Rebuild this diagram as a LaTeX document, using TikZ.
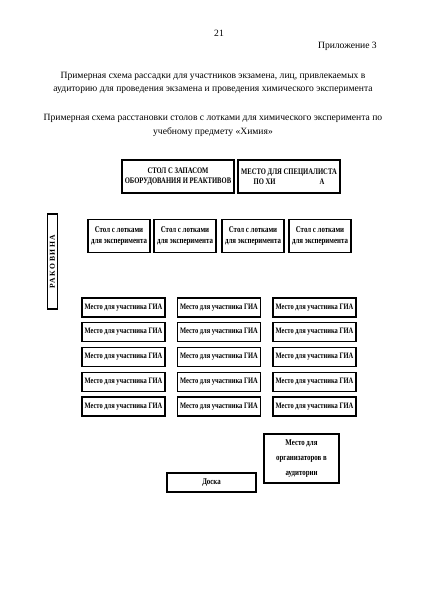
\documentclass[tikz,border=0pt]{standalone}
\usepackage{fontspec}
\setmainfont{Liberation Serif}
\newfontfamily\cond[FakeStretch=0.78]{Liberation Serif}
\newfontfamily\spaced[LetterSpace=20]{Liberation Serif}
\tikzset{
  box/.style={draw, line width=1.1pt, inner sep=0pt, align=center, font=\cond\bfseries\fontsize{8.5}{10.5}\selectfont},
  body/.style={inner sep=0pt, font=\fontsize{9.6}{11}\selectfont},
}
\begin{document}
\begin{tikzpicture}[x=1pt,y=-1pt]
\useasboundingbox[fill=white] (0,0) rectangle (424,600);
\node[body] (pg) at (219,33) {21};
\node[body, anchor=east] (app) at (377,46) {Приложение 3};
\node[body] (t1) at (213,76) {Примерная схема рассадки для участников экзамена, лиц, привлекаемых в};
\node[body] (t2) at (213,90) {аудиторию для проведения экзамена и проведения химического эксперимента};
\node[body] (t3) at (213,118) {Примерная схема расстановки столов с лотками для химического эксперимента по};
\node[body] (t4) at (213,132) {учебному предмету «Химия»};

\node[box, minimum width=112, minimum height=33] (stock) at (178,176.5) {СТОЛ С ЗАПАСОМ\\ОБОРУДОВАНИЯ И РЕАКТИВОВ};
\node[box, minimum width=102, minimum height=33] (spec) at (289,176.5) {МЕСТО ДЛЯ СПЕЦИАЛИСТА\\ПО ХИ\hspace{44pt}А};

\foreach \x [count=\i] in {119,185,253,320}
  \node[box, font=\cond\fontsize{8.8}{11}\selectfont\bfseries, minimum width=62, minimum height=33] (tray\i) at (\x,236) {Стол с лотками\\для эксперимента};

\node[box, minimum width=10, minimum height=95] (sink) at (52.5,261.5) {};
\node[font=\spaced\bfseries\fontsize{7.6}{8}\selectfont, rotate=90, inner sep=0pt] (sinktext) at (sink.center) {РАКОВИНА};

\foreach \x [count=\c] in {123.5,219,314.5}
  \foreach \y [count=\r] in {307.5,332,357,382,406.5}
    \node[box, font=\cond\bfseries\fontsize{8.3}{9}\selectfont, minimum width=83, minimum height=19] (p\c\r) at (\x,\y) {Место для участника ГИА};

\node[box, font=\cond\bfseries\fontsize{8.8}{15}\selectfont, minimum width=75, minimum height=49] (org) at (301.5,458.5) {Место для\\организаторов в\\аудитории};
\node[box, font=\cond\bfseries\fontsize{8.8}{9}\selectfont, minimum width=89, minimum height=19] (board) at (211.5,482.5) {Доска};
\end{tikzpicture}
\end{document}
